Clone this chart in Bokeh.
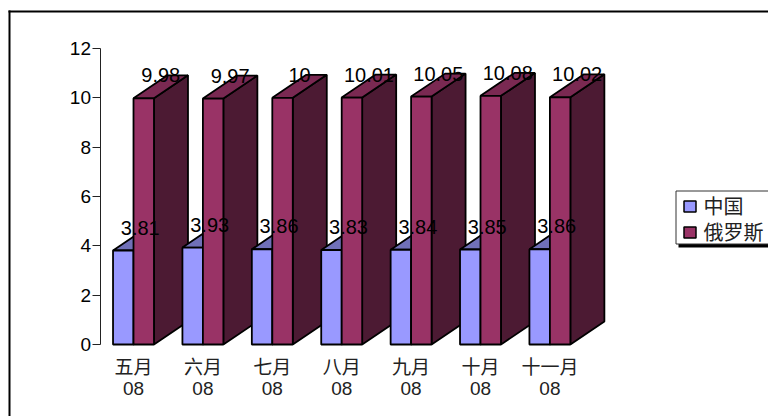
from bokeh.plotting import figure, ColumnDataSource
from bokeh.models import Range1d, FixedTicker, BoxAnnotation, Label
from bokeh.core.properties import value
from bokeh.embed import file_html
from bokeh.resources import INLINE

months = ["五月", "六月", "七月", "八月", "九月", "十月", "十一月"]
years = ["08", "08", "08", "08", "08", "08", "08"]
china = [3.81, 3.93, 3.86, 3.83, 3.84, 3.85, 3.86]
russia = [9.98, 9.97, 10, 10.01, 10.05, 10.08, 10.02]
value_labels_russia = ["9.98", "9.97", "10", "10.01", "10.05", "10.08", "10.02"]
y_ticks = [0, 2, 4, 6, 8, 10, 12]
series_names = ["中国", "俄罗斯"]

LATIN = "Liberation Sans"
MIXED = "Liberation Sans, Noto Sans CJK SC"
CJK = "Noto Sans CJK SC"

# Bar geometry, in axis units: each month occupies one unit on x.
BAR_W = 0.295
DEPTH_X = 0.49
DEPTH_Y = 0.93

# The plotting frame fills the canvas; axes are pinned inside it.
PX_PER_MONTH = 69.4
PX_PER_UNIT = 24.67
ZERO_X = 133
ZERO_Y = 344
AXIS_X = (99.5 - ZERO_X) / PX_PER_MONTH

p = figure(
    width=768, height=416, output_backend="svg", toolbar_location=None,
    x_range=Range1d(-ZERO_X / PX_PER_MONTH, (768 - ZERO_X) / PX_PER_MONTH),
    y_range=Range1d((ZERO_Y - 416) / PX_PER_UNIT, ZERO_Y / PX_PER_UNIT),
    min_border=0,
    background_fill_color="white", border_fill_color="white",
)
p.outline_line_color = None
p.grid.visible = False

p.yaxis.fixed_location = AXIS_X
p.yaxis.bounds = (0, 12)
p.yaxis.ticker = FixedTicker(ticks=y_ticks)
p.yaxis.major_label_text_font = LATIN
p.yaxis.major_label_text_font_size = "19px"
p.yaxis.major_label_text_color = "black"
p.yaxis.axis_line_color = "#222222"
p.yaxis.major_tick_line_color = "#222222"
p.yaxis.major_tick_in = 0
p.yaxis.major_tick_out = 8
p.yaxis.minor_tick_line_color = None
p.yaxis.major_label_standoff = 1

p.xaxis.fixed_location = 0
p.xaxis.ticker = FixedTicker(ticks=list(range(len(months))))
p.xaxis.major_label_overrides = {i: f"{m}\n{y}" for i, (m, y) in enumerate(zip(months, years))}
p.xaxis.major_label_text_font = MIXED
p.xaxis.major_label_text_font_size = "19px"
p.xaxis.major_label_text_color = "#222222"
p.xaxis.major_label_text_line_height = 1.0
p.xaxis.axis_line_color = None
p.xaxis.major_tick_line_color = None
p.xaxis.minor_tick_line_color = None
p.xaxis.major_label_standoff = 6


def prism(left, top, fill, top_fill, side_fill):
    """Side, top and front faces of one bar, in painting order."""
    right = left + BAR_W
    return [
        ([right, right + DEPTH_X, right + DEPTH_X, right], [0, DEPTH_Y, top + DEPTH_Y, top], side_fill),
        ([left, left + DEPTH_X, right + DEPTH_X, right], [top, top + DEPTH_Y, top + DEPTH_Y, top], top_fill),
        ([left, right, right, left], [0, 0, top, top], fill),
    ]


faces = []
for i in range(len(months)):
    faces += prism(i - BAR_W, china[i], "#9999ff", "#7070b8", "#4c4c80")
    faces += prism(i, russia[i], "#993366", "#7a2952", "#4c1a33")

p.patches(
    xs="xs", ys="ys", fill_color="fill", line_color="black", line_width=1.8,
    source=ColumnDataSource(dict(
        xs=[f[0] for f in faces], ys=[f[1] for f in faces], fill=[f[2] for f in faces],
    )),
)

# Value labels sit at the rear top edge of every bar.
p.text(
    x=[i - BAR_W / 2 + DEPTH_X / 2 for i in range(len(months))],
    y=[v + DEPTH_Y for v in china],
    text=[f"{v:.2f}" for v in china],
    text_font=value(LATIN), text_font_size="20px", text_color="black",
    text_align="center", text_baseline="middle",
)
p.text(
    x=[i + BAR_W / 2 + DEPTH_X / 2 for i in range(len(months))],
    y=[v + DEPTH_Y for v in russia],
    text=value_labels_russia,
    text_font=value(LATIN), text_font_size="20px", text_color="black",
    text_align="center", text_baseline="middle",
)


def canvas_box(l, r, t, b, fill, line=None, width=1):
    p.add_layout(BoxAnnotation(left=l, right=r, top=t, bottom=b, left_units="canvas", right_units="canvas",
                               top_units="canvas", bottom_units="canvas", fill_color=fill, fill_alpha=1,
                               line_color=line, line_width=width, line_alpha=1, level="overlay"))


# Outer chart frame: left and top rules.
canvas_box(8, 10, 10, 416, "black")
canvas_box(8, 768, 10, 12, "black")

# Legend panel with drop shadow.
canvas_box(678, 768, 195, 247, "black")
canvas_box(675.5, 768, 190.5, 243.5, "white", "#333333", 1)
for idx, (name, fill) in enumerate(zip(series_names, ["#9999ff", "#993366"])):
    cy = 206 + idx * 26
    canvas_box(683.5, 695.5, cy - 5.5, cy + 5.5, fill, "black", 1.5)
    p.add_layout(Label(x=703, y=cy - 1, x_units="canvas", y_units="canvas", text=name,
                       text_font=CJK, text_font_size="20px", text_color="#222222",
                       text_baseline="middle", level="overlay"))

open("out.html", "w").write(file_html(p, INLINE))
